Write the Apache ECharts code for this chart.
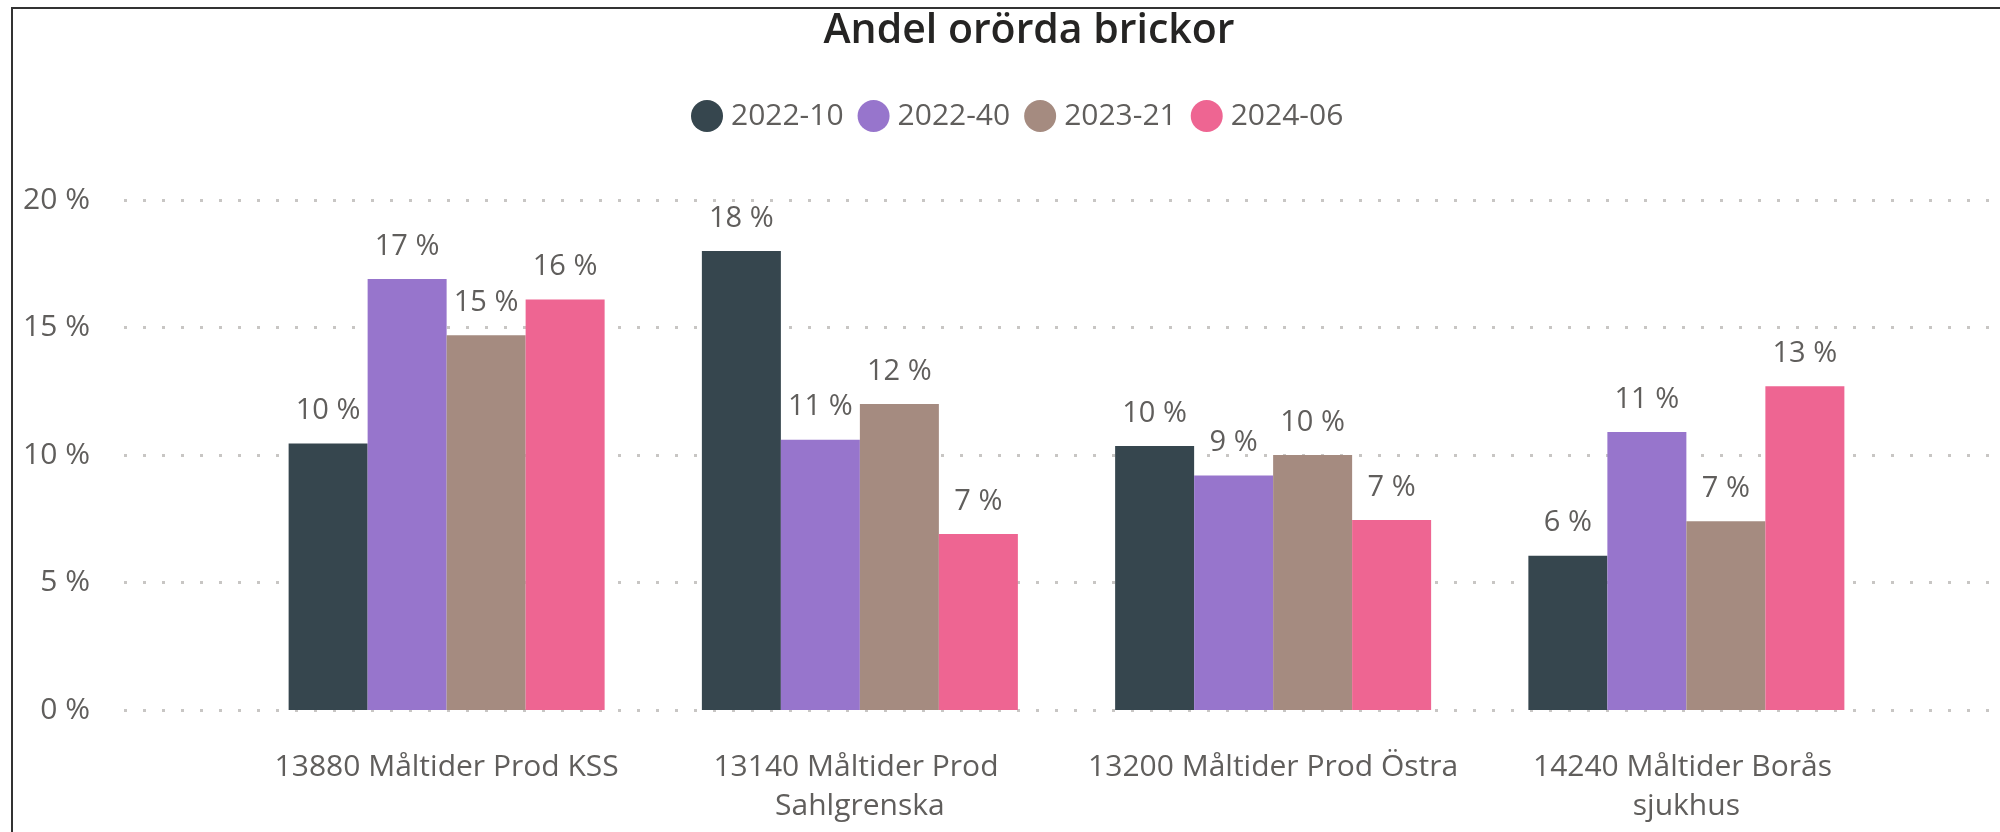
<!DOCTYPE html>
<html>
<head>
<meta charset="utf-8">
<title>Andel orörda brickor</title>
<script src="https://cdn.jsdelivr.net/npm/echarts@6/dist/echarts.min.js"></script>
<style>
    html, body { margin: 0; padding: 0; background: #fff; }
    #chart { width: 2000px; height: 832px; }
    .frame {
        position: absolute; left: 11px; top: 7px; width: 2100px; height: 900px;
        border-left: 2px solid #333; border-top: 2px solid #333; pointer-events: none;
    }
</style>
</head>
<body>
<div id="chart"></div>
<div class="frame"></div>
<script>
    // kategorier och värden (andel i procent)
    var categories = ['13880 Måltider Prod KSS', '13140 Måltider Prod Sahlgrenska', '13200 Måltider Prod Östra', '14240 Måltider Borås sjukhus'];
    var periods = ['2022-10', '2022-40', '2023-21', '2024-06'];
    var values2022_10 = [10.45, 18.0, 10.35, 6.05];
    var values2022_40 = [16.9, 10.6, 9.2, 10.9];
    var values2023_21 = [14.7, 12.0, 10.0, 7.4];
    var values2024_06 = [16.1, 6.9, 7.45, 12.7];
    var yTicks = [0, 5, 10, 15, 20];

    var colors = ['#36464E', '#9775CC', '#A58B80', '#EE6592'];
    var font = '"Open Sans", "Noto Sans", sans-serif';

    var seriesValues = [values2022_10, values2022_40, values2023_21, values2024_06];

    var chart = echarts.init(document.getElementById('chart'));
    chart.setOption({
        backgroundColor: '#fff',
        color: colors,
        animation: false,
        title: {
            text: 'Andel orörda brickor',
            left: 1024,
            textAlign: 'center',
            top: 6,
            textStyle: { fontFamily: font, fontSize: 41, fontWeight: 600, color: '#252423' }
        },
        legend: {
            data: periods,
            left: 686,
            top: 95,
            icon: 'circle',
            itemWidth: 32,
            itemHeight: 32,
            itemGap: 14,
            textStyle: { fontFamily: font, fontSize: 30, color: '#605E5C', padding: [0, 0, 0, 3] }
        },
        grid: [
            { left: 124, right: 4, top: 200, bottom: 122 },
            { left: 240, right: 107, top: 200, bottom: 122 }
        ],
        xAxis: [
            { gridIndex: 0, type: 'category', data: categories, show: false },
            {
                gridIndex: 1,
                type: 'category',
                data: categories,
                axisLine: { show: false },
                axisTick: { show: false },
                axisLabel: {
                    margin: 38,
                    fontFamily: font,
                    fontSize: 30,
                    lineHeight: 39,
                    color: '#605E5C',
                    width: 405,
                    overflow: 'break',
                    interval: 0
                }
            }
        ],
        yAxis: [
            {
                gridIndex: 0,
                type: 'value',
                min: yTicks[0],
                max: yTicks[yTicks.length - 1],
                interval: 5,
                axisLine: { show: false },
                axisTick: { show: false },
                axisLabel: {
                    margin: 34,
                    fontFamily: font,
                    fontSize: 30,
                    color: '#605E5C',
                    formatter: function (v) { return v + ' %'; }
                },
                splitLine: {
                    lineStyle: { color: '#C8C6C4', width: 3, type: [3, 16] }
                }
            },
            {
                gridIndex: 1,
                type: 'value',
                min: yTicks[0],
                max: yTicks[yTicks.length - 1],
                interval: 5,
                show: false,
                splitLine: { show: false }
            }
        ],
        series: periods.map(function (name, i) {
            return {
                name: name,
                type: 'bar',
                xAxisIndex: 1,
                yAxisIndex: 1,
                data: seriesValues[i],
                barWidth: 79,
                barGap: '0%',
                label: {
                    show: true,
                    position: 'top',
                    distance: 18,
                    fontFamily: font,
                    fontSize: 29,
                    color: '#605E5C',
                    formatter: function (p) { return Math.round(p.value) + ' %'; }
                }
            };
        })
    });
</script>
</body>
</html>
